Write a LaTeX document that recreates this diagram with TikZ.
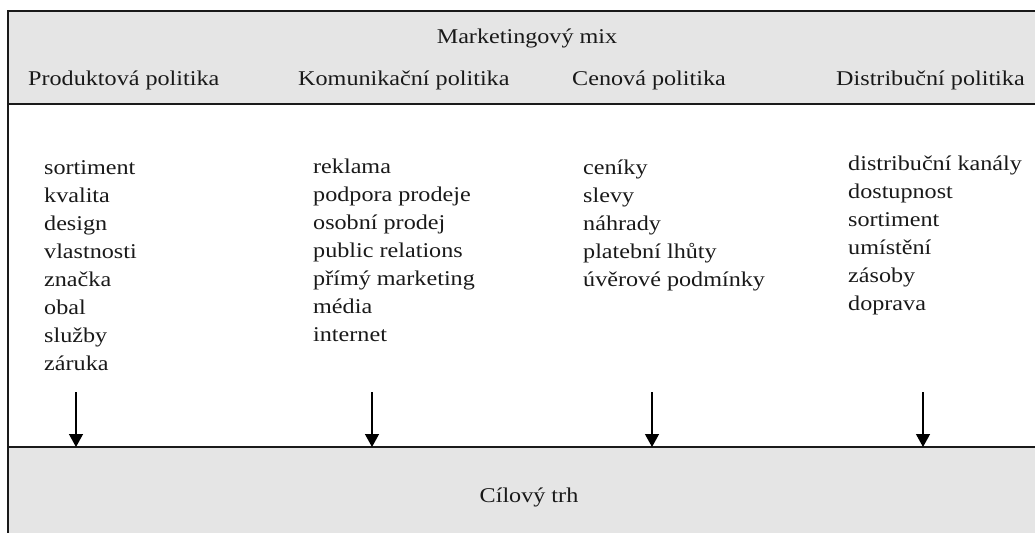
\documentclass[tikz,border=0pt]{standalone}
\usepackage{fontspec}
\setmainfont{Liberation Serif}[FakeStretch=1.15]
\usetikzlibrary{arrows.meta}
\definecolor{bandgrey}{HTML}{E5E5E5}
\definecolor{rule}{HTML}{1A1A1A}
\begin{document}
\begin{tikzpicture}[x=1pt,y=-1pt,
  txt/.style={font=\fontsize{21}{28}\selectfont, inner sep=0pt, text=black!90},
  item/.style={txt, anchor=base west},
  band/.style={fill=bandgrey, draw=none, inner sep=0pt, anchor=north west, minimum width=1027pt},
  flow/.style={line width=1.3pt, -{Triangle[width=14pt,length=13pt]}}
]
\useasboundingbox (0,0) rectangle (1035,533);

% bands
\node[band, minimum height=93pt] (mixband) at (8,11) {};
\node[band, minimum height=86pt] (trh) at (8,447) {};
\draw[rule, line width=1.5pt] (1035,11) -- (8,11) -- (8,533);
\draw[rule, line width=1.2pt] (8,104) -- (1035,104);
\draw[rule, line width=1.2pt] (8,447) -- (1035,447);

% headings
\node[txt, anchor=base] (mix) at (527,43) {Marketingový mix};
\node[item] (h1) at (28,85) {Produktová politika};
\node[item] (h2) at (298,85) {Komunikační politika};
\node[item] (h3) at (572,85) {Cenová politika};
\node[item] (h4) at (836,85) {Distribuční politika};
\node[txt, anchor=base] (cil) at (529,502) {Cílový trh};

% instrument lists
\foreach \t [count=\i] in {sortiment,kvalita,design,vlastnosti,značka,obal,služby,záruka}
  \node[item] (a\i) at (44,174+28*\i-28) {\t};
\foreach \t [count=\i] in {reklama,podpora prodeje,osobní prodej,public relations,přímý marketing,média,internet}
  \node[item] (b\i) at (313,173+28*\i-28) {\t};
\foreach \t [count=\i] in {ceníky,slevy,náhrady,platební lhůty,úvěrové podmínky}
  \node[item] (c\i) at (583,174+28*\i-28) {\t};
\foreach \t [count=\i] in {distribuční kanály,dostupnost,sortiment,umístění,zásoby,doprava}
  \node[item] (d\i) at (848,170+28*\i-28) {\t};

% arrows into the target market
\coordinate (s1) at (76,392);
\coordinate (s2) at (372,392);
\coordinate (s3) at (652,392);
\coordinate (s4) at (923,392);
\foreach \k in {1,2,3,4}
  \draw[flow] (s\k) -- (s\k |- trh.north);
\end{tikzpicture}
\end{document}
